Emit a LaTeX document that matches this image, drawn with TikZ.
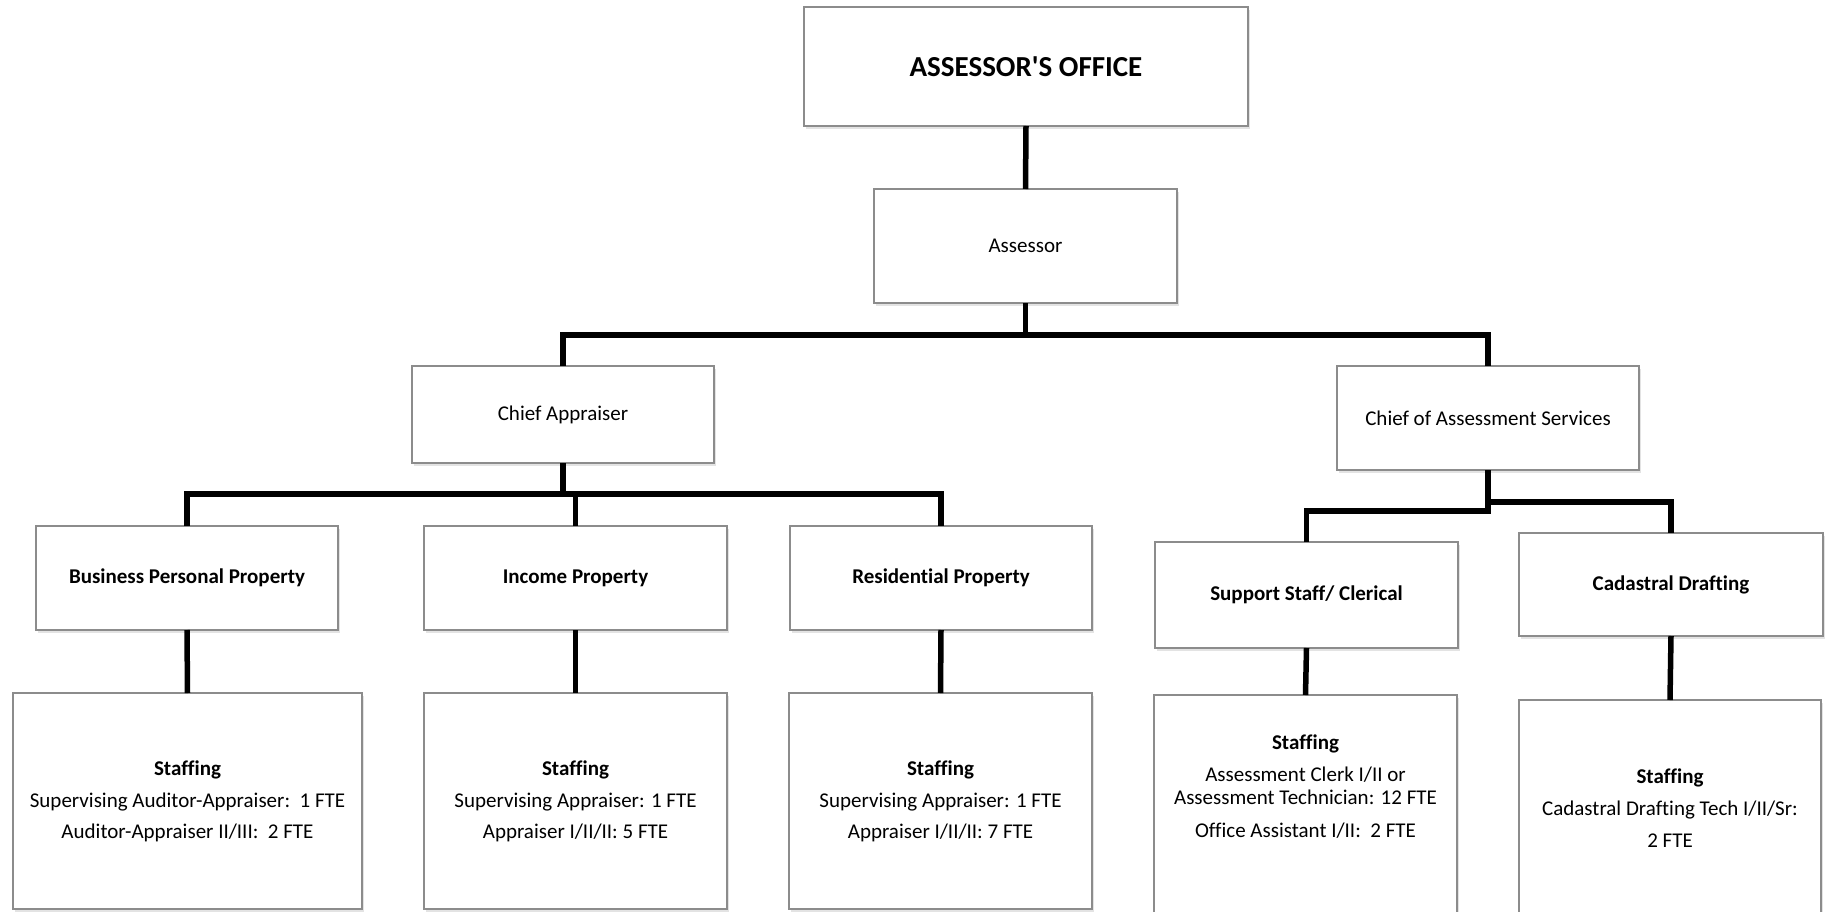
\documentclass[tikz,border=0pt]{standalone}
\usepackage{fontspec}
\setmainfont[Ligatures={NoCommon}]{Carlito}
\usetikzlibrary{shadows}
\begin{document}
\begin{tikzpicture}[x=1pt,y=-1pt,
  box/.style={draw=black!45, line width=1.5pt, fill=white, inner sep=0pt, outer sep=0pt,
    align=center, font=\fontsize{21}{23}\selectfont,
    drop shadow={shadow xshift=1.5pt, shadow yshift=-3pt, opacity=0.22}},
  conn/.style={line width=5.5pt, black, line join=miter},
  txt/.style={align=center, inner sep=0pt, font=\fontsize{21}{23}\selectfont}]
\useasboundingbox (0,0) rectangle (1829,912);

% top
\node[box, minimum width=444pt, minimum height=119pt, font=\fontsize{29}{33}\selectfont\bfseries] (office) at (1026,66.5) {ASSESSOR\textquotesingle S OFFICE};
\node[box, minimum width=303pt, minimum height=114pt] (assessor) at (1025.5,246) {Assessor};

% level 2
\node[box, minimum width=302pt, minimum height=97pt] (chiefA) at (563,414.5) {Chief Appraiser};
\node[box, minimum width=302pt, minimum height=104pt] (chiefS) at (1488,418) {Chief of Assessment Services};

% level 3
\node[box, minimum width=302pt, minimum height=104pt] (bpp) at (187,578) {\textbf{Business Personal Property}};
\node[box, minimum width=303pt, minimum height=104pt] (inc) at (575.5,578) {\textbf{Income Property}};
\node[box, minimum width=302pt, minimum height=104pt] (res) at (941,578) {\textbf{Residential Property}};
\node[box, minimum width=303pt, minimum height=106pt] (sup) at (1306.5,595) {\textbf{Support Staff/ Clerical}};
\node[box, minimum width=304pt, minimum height=103pt] (cad) at (1671,584.5) {\textbf{Cadastral Drafting}};

% staffing
\node[box, minimum width=349pt, minimum height=216pt] (st1) at (187.5,801)
  {\textbf{Staffing}\\[9pt]Supervising Auditor-Appraiser:\ \ 1 FTE\\[8pt]Auditor-Appraiser II/III:\ \ 2 FTE};
\node[box, minimum width=303pt, minimum height=216pt] (st2) at (575.5,801)
  {\textbf{Staffing}\\[9pt]Supervising Appraiser: 1 FTE\\[8pt]Appraiser I/II/II: 5 FTE};
\node[box, minimum width=303pt, minimum height=216pt] (st3) at (940.5,801)
  {\textbf{Staffing}\\[9pt]Supervising Appraiser: 1 FTE\\[8pt]Appraiser I/II/II: 7 FTE};
\node[box, minimum width=303pt, minimum height=240pt, anchor=north] (st4) at (1305.5,695) {};
\node[txt] (st4t) at (1305.5,787)
  {\textbf{Staffing}\\[9pt]Assessment Clerk I/II or\\Assessment Technician: 12 FTE\\[10pt]Office Assistant I/II:\ \ 2 FTE};
\node[box, minimum width=302pt, minimum height=240pt, anchor=north] (st5) at (1670,700) {};
\node[txt] (st5t) at (1670,808)
  {\textbf{Staffing}\\[9pt]Cadastral Drafting Tech I/II/Sr:\\[9pt]2 FTE};

% connectors
\coordinate (bus1) at (0,335);
\coordinate (bus2) at (0,494);
\coordinate (bus3) at (0,511);
\coordinate (bus4) at (0,502);
\draw[conn] (office.south) -- (assessor.north);
\draw[conn] (assessor.south) -- (assessor.south |- bus1);
\draw[conn] (chiefA.north) -- (chiefA.north |- bus1) -- (chiefS.north |- bus1) -- (chiefS.north);
\draw[conn] (chiefA.south) -- (chiefA.south |- bus2);
\draw[conn] (bpp.north) -- (bpp.north |- bus2) -- (res.north |- bus2) -- (res.north);
\draw[conn] (inc.north) -- (inc.north |- bus2);
\draw[conn] (sup.north) -- (sup.north |- bus3) -- (chiefS.south |- bus3) -- (chiefS.south);
\draw[conn] (chiefS.south |- bus4) -- (cad.north |- bus4) -- (cad.north);
\draw[conn] (bpp.south) -- (st1.north);
\draw[conn] (inc.south) -- (st2.north);
\draw[conn] (res.south) -- (st3.north);
\draw[conn] (sup.south) -- (st4.north);
\draw[conn] (cad.south) -- (st5.north);
\end{tikzpicture}
\end{document}
